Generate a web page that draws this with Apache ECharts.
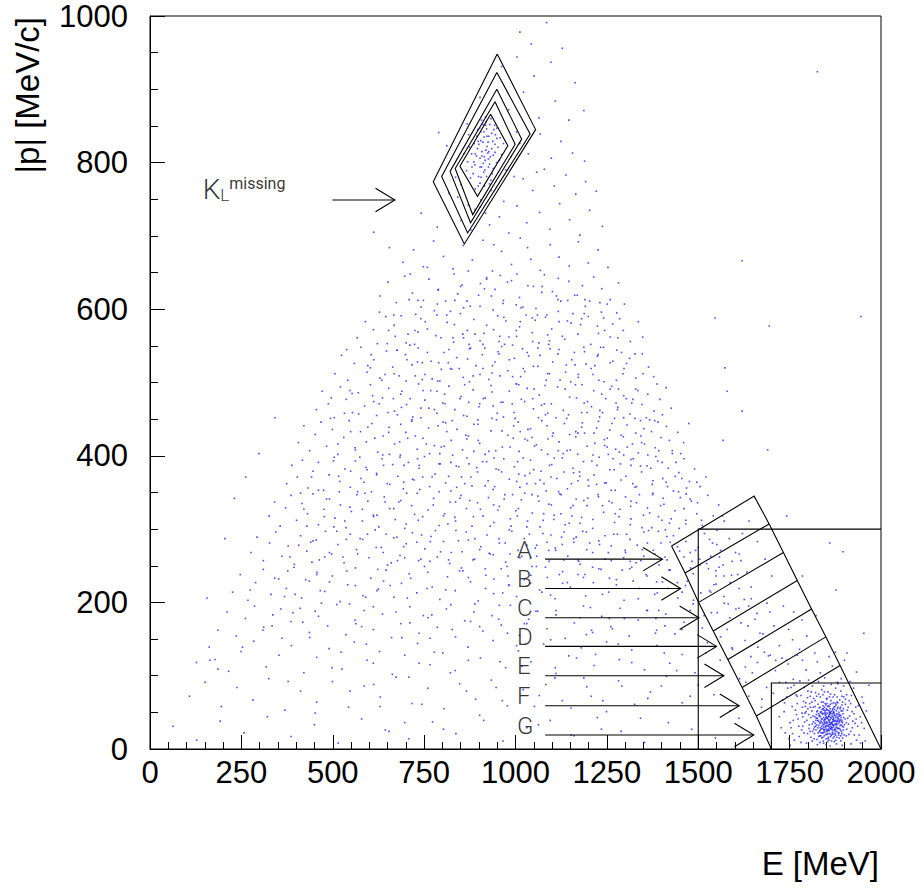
<!DOCTYPE html>
<html>
<head>
<meta charset="utf-8">
<script src="https://cdn.jsdelivr.net/npm/echarts@6/dist/echarts.min.js"></script>
<style>html,body{margin:0;padding:0;background:#fff}#chart{width:924px;height:890px}</style>
</head>
<body>
<div id="chart"></div>
<script>
// ---- axis ticks ----
const xTicks = [0, 250, 500, 750, 1000, 1250, 1500, 1750, 2000];
const yTicks = [0, 200, 400, 600, 800, 1000];

// ---- scatter points (E, |p|) flat pairs ----
const cloudHigh = [
1012,978, 1043,962, 1085,991, 1128,956,
962,931, 1004,944, 1051,918, 1097,937, 1163,909,
903,889, 981,872, 1022,896, 1064,861, 1109,884, 1146,858, 868,853, 1187,871,
1012,826, 1035,812, 1068,839, 1098,806, 1124,829, 1156,813, 812,823, 790,841, 1189,802,
1021,778, 1047,762, 1079,791, 1106,768, 1138,783, 1165,757, 1192,774, 1221,761, 818,758, 842,753, 1058,787,
851,721, 878,708, 903,739, 929,715, 956,726, 982,704, 1004,741, 1031,718, 1066,732, 1094,709, 1121,744, 1148,722, 1176,701, 1203,735, 1238,713, 968,747,
692,664, 721,681, 748,658, 776,693, 803,672, 829,655, 857,687, 882,667, 911,694, 937,652, 962,679, 989,661, 1013,697, 1042,668, 1068,653, 1095,688, 1119,671, 1147,659, 1172,692, 1199,663, 1226,681, 1253,657, 941,688, 1033,684, 871,652,
629,618, 651,637, 674,609, 697,645, 718,622, 742,603, 763,641, 788,626, 809,611, 832,648, 854,633, 876,604, 899,619, 921,643, 944,627, 966,608, 989,639, 1011,616, 1034,632, 1056,601, 1079,647, 1101,624, 1124,611, 1146,638, 1169,619, 1191,604, 1214,644, 1236,628, 1259,613, 1282,636, 1298,607, 712,648, 834,612, 958,646, 1072,623, 1183,632, 786,607, 1002,606, 1117,642, 915,628,
567,561, 589,583, 611,572, 628,596, 649,553, 668,578, 687,591, 706,566, 724,552, 741,587, 759,573, 778,598, 796,561, 813,582, 831,555, 849,594, 868,571, 886,586, 903,557, 921,578, 939,599, 957,563, 974,584, 992,551, 1011,576, 1029,592, 1046,568, 1064,554, 1082,589, 1099,573, 1117,597, 1135,559, 1152,581, 1171,566, 1188,594, 1206,552, 1224,577, 1241,588, 1259,562, 1277,595, 1295,571, 1314,556, 1336,583, 1348,562, 645,590, 733,569, 822,597, 911,552, 1003,563, 1091,552, 1178,579, 1266,580, 701,554, 858,561, 1054,585
];
const cloudMid = [
506,512, 524,537, 541,503, 559,526, 577,548, 594,514, 612,531, 629,506, 647,543, 664,521, 682,509, 699,538, 717,524, 734,547, 752,511, 769,529, 787,502, 804,541, 822,519, 839,534, 857,507, 874,546, 892,523, 909,538, 927,504, 944,528, 962,549, 979,516, 997,533, 1014,508, 1032,541, 1049,522, 1067,537, 1084,503, 1102,528, 1119,545, 1137,514, 1154,531, 1172,507, 1189,542, 1207,519, 1224,536, 1242,501, 1259,527, 1277,544, 1294,512, 1312,533, 1329,506, 1347,539, 1364,521, 1378,508, 538,545, 603,520, 676,544, 745,504, 816,527, 884,509, 955,539, 1025,515, 1095,546, 1163,524, 1233,548, 1304,526, 1088,512, 936,513, 797,518,
455,463, 471,488, 488,471, 504,452, 521,494, 537,477, 554,459, 570,486, 587,468, 603,497, 620,455, 636,479, 653,492, 669,461, 686,484, 702,470, 719,453, 735,498, 752,476, 768,489, 785,458, 801,472, 818,495, 834,463, 851,481, 867,454, 884,490, 900,467, 917,479, 933,496, 950,458, 966,473, 983,488, 999,451, 1016,477, 1032,492, 1049,464, 1065,483, 1082,456, 1098,471, 1115,494, 1131,462, 1148,480, 1164,497, 1181,459, 1197,474, 1214,489, 1230,453, 1247,478, 1263,495, 1280,466, 1296,482, 1313,457, 1329,491, 1346,470, 1362,484, 1379,461, 1395,477, 1412,493, 1426,465, 1358,452, 1387,498, 1402,456, 1321,477, 1271,451, 1208,467, 1140,451, 1071,469, 1003,498, 939,468, 872,473, 806,484, 741,465, 677,456, 612,474, 547,489, 496,479,
406,418, 421,441, 437,407, 452,429, 468,446, 483,413, 499,436, 514,402, 530,425, 545,448, 561,411, 576,433, 592,419, 607,444, 623,405, 638,427, 654,439, 669,416, 685,401, 700,432, 716,447, 731,409, 747,424, 762,438, 778,414, 793,403, 809,445, 824,421, 840,436, 855,408, 871,427, 886,443, 902,417, 917,402, 933,434, 948,449, 964,412, 979,428, 995,441, 1010,406, 1026,423, 1041,437, 1057,415, 1072,448, 1088,402, 1103,431, 1119,419, 1134,444, 1150,408, 1165,426, 1181,439, 1196,413, 1212,401, 1227,447, 1243,422, 1258,435, 1274,409, 1289,428, 1305,442, 1320,416, 1336,404, 1351,437, 1367,449, 1382,411, 1398,425, 1413,440, 1429,407, 1444,432, 1460,418, 1474,444, 1452,403, 1421,421, 1390,446, 1343,427, 1296,401, 1251,412, 1189,431, 1117,407, 1045,425,
374,362, 388,387, 403,371, 417,394, 432,356, 446,379, 461,391, 475,353, 490,374, 504,398, 519,365, 533,382, 548,357, 562,393, 577,369, 591,384, 606,351, 620,376, 635,396, 649,362, 664,388, 678,372, 693,355, 707,391, 722,367, 736,383, 751,399, 765,358, 780,375, 794,389, 809,363, 823,352, 838,386, 852,371, 867,397, 881,359, 896,378, 910,392, 925,366, 939,354, 954,381, 968,396, 983,368, 997,385, 1012,357, 1026,373, 1041,394, 1055,362, 1070,379, 1084,352, 1099,388, 1113,369, 1128,397, 1142,355, 1157,383, 1171,366, 1186,392, 1200,359, 1215,374, 1229,398, 1244,363, 1258,381, 1273,353, 1287,389, 1302,372, 1316,395, 1331,358, 1345,378, 1360,386, 1374,361, 1389,393, 1403,369, 1418,383, 1432,352, 1447,377, 1461,396, 1476,365, 1490,382, 1505,358, 1521,371, 1468,356, 1439,391, 1412,364, 1384,399, 1455,369, 1496,364
];
const cloudLow = [
326,318, 341,337, 356,304, 371,329, 386,346, 401,312, 416,335, 431,321, 446,348, 461,306, 476,327, 491,341, 506,315, 521,333, 536,302, 551,324, 566,347, 581,311, 596,338, 611,319, 626,303, 641,344, 656,328, 671,313, 686,339, 701,307, 716,332, 731,349, 746,317, 761,326, 776,342, 791,305, 806,321, 821,337, 836,311, 851,346, 866,328, 881,304, 896,336, 911,318, 926,343, 941,309, 956,331, 971,347, 986,314, 1001,325, 1016,340, 1031,303, 1046,322, 1061,345, 1076,312, 1091,334, 1106,319, 1121,348, 1136,306, 1151,329, 1166,341, 1181,316, 1196,332, 1211,301, 1226,347, 1241,323, 1256,338, 1271,309, 1286,327, 1301,344, 1316,314, 1331,336, 1346,302, 1361,329, 1376,349, 1391,317, 1406,334, 1421,308, 1436,325, 1451,343, 1466,312, 1481,338, 1496,321, 1511,305, 1526,346, 1541,318, 1556,333, 1571,311,
276,268, 293,289, 310,257, 327,281, 344,296, 361,263, 378,277, 395,252, 412,291, 429,270, 446,284, 463,258, 480,297, 497,266, 514,279, 531,254, 548,293, 565,272, 582,286, 599,261, 616,299, 633,275, 650,251, 667,288, 684,264, 701,280, 718,295, 735,257, 752,273, 769,290, 786,262, 803,283, 820,253, 837,298, 854,269, 871,285, 888,259, 905,276, 922,292, 939,265, 956,281, 973,255, 990,297, 1007,271, 1024,287, 1041,260, 1058,278, 1075,294, 1092,256, 1109,274, 1126,289, 1143,263, 1160,282, 1177,252, 1194,296, 1211,268, 1228,284, 1245,259, 1262,277, 1279,293, 1296,261, 1313,286, 1330,254, 1347,272, 1364,298, 1381,266, 1398,281, 1415,258, 1432,291, 1449,270, 1466,283, 1483,256, 1500,275, 1517,294, 1534,263, 1551,279, 1568,251, 1585,287, 1602,268, 1617,257,
226,214, 247,238, 268,203, 289,227, 310,245, 331,211, 352,232, 373,219, 394,248, 415,206, 436,229, 457,241, 478,215, 499,236, 520,201, 541,224, 562,247, 583,209, 604,233, 625,218, 646,244, 667,207, 688,226, 709,239, 730,213, 751,249, 772,221, 793,204, 814,235, 835,216, 856,243, 877,228, 898,202, 919,237, 940,212, 961,246, 982,223, 1003,208, 1024,231, 1045,249, 1066,217, 1087,234, 1108,205, 1129,242, 1150,221, 1171,238, 1192,209, 1213,227, 1234,245, 1255,214, 1276,231, 1297,203, 1318,248, 1339,219, 1360,236, 1381,211, 1402,228, 1423,244, 1444,206, 1465,223, 1486,239, 1507,213, 1528,246, 1549,225, 1570,208, 1591,237, 1612,219, 1633,241, 1645,205, 1557,248,
186,162, 211,187, 236,154, 261,178, 286,195, 311,166, 336,183, 361,151, 386,174, 411,192, 436,159, 461,181, 486,168, 511,197, 536,156, 561,176, 586,189, 611,163, 636,184, 661,152, 686,171, 711,194, 736,158, 761,179, 786,166, 811,191, 836,153, 861,175, 886,187, 911,161, 936,182, 961,169, 986,196, 1011,155, 1036,177, 1061,188, 1086,164, 1111,183, 1136,151, 1161,172, 1186,195, 1211,159, 1236,181, 1261,167, 1286,192, 1311,154, 1336,176, 1361,189, 1386,162, 1411,184, 1436,157, 1461,173, 1486,198, 1511,165, 1536,186, 1561,153, 1586,179, 1611,192, 1636,168, 1661,185, 1677,157,
127,118, 162,139, 178,122, 215,106, 249,133, 284,147, 318,112, 353,128, 387,141, 421,104, 456,125, 490,137, 525,109, 559,146, 594,121, 628,133, 663,102, 697,128, 732,144, 766,115, 801,131, 835,107, 870,139, 904,124, 939,148, 973,111, 1008,134, 1042,119, 1077,143, 1111,103, 1146,127, 1180,138, 1215,114, 1249,146, 1284,122, 1318,135, 1353,108, 1387,141, 1422,117, 1456,129, 1491,104, 1525,145, 1560,121, 1594,136, 1629,112, 1663,139, 1692,127,
108,72, 151,91, 195,58, 238,84, 282,67, 325,96, 369,53, 412,79, 456,64, 499,92, 543,57, 586,86, 630,71, 673,98, 717,62, 760,83, 804,55, 847,89, 891,68, 934,94, 978,59, 1021,81, 1065,73, 1108,97, 1152,56, 1195,85, 1239,66, 1282,93, 1326,61, 1369,78, 1413,99, 1456,63, 1500,87, 1543,74, 1587,52, 1630,91, 1674,68,
63,31, 128,12, 192,38, 257,22, 321,44, 386,17, 450,33, 515,8, 579,41, 644,26, 708,14, 773,37, 837,21, 902,46, 966,11, 1031,29, 1095,39, 1160,18, 1224,43, 1289,24, 1353,9, 1418,36, 1482,27, 1547,15, 1611,42
];
const cloudExtra = [
733,612, 1187,548, 902,471, 655,402, 1342,386, 511,297, 1098,333, 824,268, 1456,214, 377,243, 968,589, 1215,431, 588,349, 1063,452, 745,527, 1391,297, 452,188, 1276,503, 861,362, 1004,648, 627,471, 1159,287, 309,162, 1523,253, 946,407, 788,441, 1112,618, 562,223, 1327,451, 697,301, 1042,237, 1478,341, 421,327, 873,552, 1248,363, 983,299, 605,538, 1392,189, 771,183, 1136,491, 514,416, 1301,268, 921,641, 684,398, 1067,367, 253,139, 1429,403, 812,592, 1203,611, 478,262, 956,196, 1349,512, 638,268, 1021,519, 1582,198, 738,354, 1170,402, 397,211, 1091,271, 867,423, 1285,587, 549,379, 1443,276, 712,478, 992,347, 1228,246, 341,233, 1128,563, 803,318, 1372,433, 579,167, 937,523, 1509,312, 667,592, 1052,413, 1257,178, 461,353, 889,287, 1187,339, 758,219, 1416,358, 615,424, 1007,446, 1322,229, 533,311, 850,631, 1145,456, 697,261, 1478,189, 982,562, 1273,321, 407,278, 1086,592, 791,389, 1361,281, 643,337, 1236,484, 917,246, 1549,236, 571,457, 1033,311, 826,518, 1409,168, 726,427, 1195,272, 491,228, 962,378, 1306,412, 673,187, 1118,351, 358,191, 1461,328, 782,564, 1058,263, 1241,548, 595,293, 936,451, 1393,251, 703,531, 1162,619, 442,371, 889,198, 1327,357, 621,216, 1013,583, 1269,293, 532,458, 848,342, 1516,182, 759,657, 1101,427, 977,249, 1437,372, 656,361, 1212,511, 418,173, 1039,376, 807,471, 1298,178, 568,266, 1147,308, 914,567, 1367,322, 713,233, 1081,496, 1254,402, 477,317, 952,326, 1561,271, 634,503, 1186,234, 867,611, 1335,489, 743,292, 1024,171, 1479,247, 594,381, 1116,539, 828,401, 1227,344, 383,262, 991,471, 1418,219, 686,443, 1072,214, 1290,541, 546,198, 894,384, 1175,378, 772,505, 1376,366, 623,245, 1049,631, 1238,211, 502,393, 918,219, 1448,301, 725,571, 1132,258, 858,455, 1314,256, 581,327, 1006,392, 1264,444, 455,285, 847,243, 1404,342, 668,512, 1093,387, 1208,162, 791,351, 967,612, 1345,418, 611,194, 1167,479, 426,231, 1031,278, 874,501, 1493,271, 737,387, 1251,607, 518,351, 982,224, 1388,213, 653,571, 1124,321, 809,217, 1279,463, 1551,298, 596,439, 943,358, 1193,525, 711,172, 1061,547, 368,208, 1426,314, 833,579, 1111,189, 667,328, 1322,396, 491,268, 1009,497, 1230,279, 763,465, 1470,229, 562,408, 904,327, 1157,594, 694,276, 1357,238, 429,304, 1045,347, 877,174, 1297,519, 620,374, 1088,458, 789,627, 1401,391, 538,243, 972,281, 1199,367, 732,528, 1531,216, 469,199, 1141,407, 865,296, 1264,336, 651,459, 1020,603, 1384,178, 575,287, 936,487, 1171,258, 817,372, 1461,262, 704,206, 1077,321, 412,349, 1318,472, 952,542, 612,317, 1223,387, 1498,336, 781,298, 1034,436, 1351,263, 553,485, 898,421, 1129,226, 676,544, 1276,224, 1005,318, 443,255, 1410,299, 846,519, 1183,445, 724,320, 1570,236, 590,207, 963,434, 1339,347, 516,372, 1097,292, 797,412, 1244,571, 646,293, 1056,188, 1446,351, 875,339, 1153,362, 391,186, 1304,293, 748,612, 992,508, 1212,313, 568,351, 1381,448, 823,197, 1122,503, 683,419, 1487,203, 928,267, 1267,396, 609,482, 1047,556, 766,256, 1373,302, 483,341, 1176,179, 941,397, 1531,286, 717,449, 1082,248, 856,566, 1327,539, 537,286, 1003,365, 1231,462, 639,229, 1420,244, 904,635, 1157,332, 785,488, 1289,367, 466,216, 1071,408, 954,177, 1353,416, 694,364, 1199,590, 574,398, 1466,307, 834,316, 1025,474, 1262,257, 622,553, 1133,378, 748,182, 1397,332, 911,519, 1238,332, 503,303, 1088,565, 802,446, 1314,306, 660,254, 985,412, 1443,227, 549,433, 1165,433, 871,234, 1282,491, 732,396, 1038,293, 1504,259, 596,523, 940,572, 1205,193, 456,238, 1370,383, 818,545, 1110,271, 689,488, 1251,424, 979,236, 1423,282, 637,401, 1061,522, 775,333, 1336,205, 528,262, 897,449, 1184,297, 711,551, 1467,348, 1017,263, 1295,426, 585,364, 845,385, 1142,584, 657,223, 1392,407, 931,304, 1226,538, 494,451, 1050,381, 765,403, 1316,338, 619,275, 970,552, 1543,224, 701,502, 1096,210, 886,406, 1259,491, 547,330, 1013,433, 1359,189, 741,259, 1172,511, 440,282
];
const cloudCore = [
812,433, 1093,512, 955,287, 1176,372, 702,349, 1238,459, 889,566, 1021,397, 767,283, 1315,331, 934,618, 1142,227, 848,478, 1067,303, 1284,405, 726,509, 996,459, 1203,281, 873,389, 1119,583, 653,432, 1351,296, 941,232, 1182,497, 785,592, 1036,536, 1262,353, 817,258, 1089,423, 969,341, 1227,567, 746,371, 1409,262, 903,511, 1154,318, 688,466, 1012,261, 1296,452, 858,602, 1078,362, 1333,278, 927,406, 1190,613, 759,541, 1047,478, 1257,233, 836,337, 1111,452, 675,289, 983,531, 1217,417, 902,272, 1161,541, 741,452, 1375,347, 1025,349, 1280,561, 864,428, 1133,296, 709,613, 961,473, 1198,342, 793,502, 1060,592, 1316,387, 917,359, 1173,256, 643,511, 1386,228, 1002,571, 1245,291, 829,561, 1097,371, 734,312, 978,637, 1228,503, 885,317, 1148,429, 671,563, 1054,274, 1303,478, 947,382, 1211,248, 805,413, 1073,631, 1342,448, 916,547, 1177,308, 760,241, 1033,421, 1270,381, 844,284, 1116,613, 695,387, 988,304, 1235,596, 869,532, 1125,347, 621,319, 1401,312, 958,509, 1196,459, 778,463, 1041,226, 1313,246, 897,443, 1159,377, 727,593, 1009,375, 1283,317, 842,621, 1086,282, 967,453, 1222,361, 815,307, 1139,524, 681,337, 1051,491, 1362,401, 931,266, 1181,587, 756,416, 1019,546, 1254,268, 878,371, 1106,397, 639,387, 1377,271, 994,424, 1217,523, 852,247, 1093,557, 718,368, 1329,431, 951,591, 1166,289, 790,527, 1064,338, 1292,244, 912,478, 1143,612, 677,257, 1031,362, 1244,414, 861,497, 1120,238, 747,489, 985,266, 1209,393, 827,448, 1079,471, 1350,319, 940,333, 1188,472, 705,424, 1015,602, 1266,529, 884,258, 1131,403, 772,371, 1002,498, 1300,271, 955,556, 1171,431, 823,391, 1057,249, 1231,609, 666,478, 1105,313, 921,392, 1321,362, 795,269, 1046,588, 1190,238, 877,547, 1414,290, 730,282, 1008,328, 1275,472, 839,357, 1151,501, 965,213, 1222,438, 753,583, 1086,441, 1343,257, 903,604, 1128,279,
523,132, 744,61, 978,158, 1187,97, 1342,42, 612,88, 871,121, 1063,33, 1265,164, 452,49, 689,152, 1128,66, 1407,131, 803,27, 947,84, 1219,129, 563,171, 1017,113, 1478,72, 378,92, 736,117, 1291,86, 913,39, 1096,149, 654,24, 1383,158, 827,163, 1152,19, 498,111, 1031,171, 1249,51, 708,98, 1441,107, 592,143, 964,66, 1318,118, 866,79, 1194,156, 437,152, 778,132, 1083,88, 1521,131, 629,58, 1003,141, 1362,69, 902,167, 1167,124, 547,79, 1235,27, 822,104, 1455,163, 697,36, 1109,111, 334,168, 1281,143, 958,119, 1399,86, 766,151, 1052,58, 1566,101, 611,117, 1207,72
];
const diamondPts = [
905,842, 918,851, 927,836, 911,828, 896,819, 922,822, 938,829, 931,808, 917,803, 903,806, 889,797, 944,814, 952,821, 926,794, 913,787, 899,781, 884,785, 936,785, 948,800, 921,846, 907,858, 894,836, 880,812, 869,801, 941,845, 958,834, 962,811, 929,771, 915,768, 903,772, 890,764, 877,779, 908,815, 924,813, 935,819, 898,829, 887,826, 914,835, 930,852, 945,838, 956,803, 939,792, 921,781, 907,794, 893,809, 881,794, 866,789, 912,799, 926,805, 902,847, 918,862, 933,860, 949,847, 967,826, 874,821,
836,780, 851,770, 859,812, 872,838, 973,790, 988,808, 996,781, 1003,842, 871,742, 889,736, 905,749, 918,731, 934,762,
914,842, 900,825, 925,828, 935,840, 908,809, 919,817, 929,798, 944,825, 903,794, 916,790, 890,812, 897,845, 911,852, 939,810, 922,836, 906,780, 886,801, 949,833, 927,815, 915,808, 933,776, 898,768, 920,856, 943,851, 905,830
];
const bandPts = [
1478,268, 1512,302, 1539,281, 1566,318, 1593,256, 1621,294, 1548,243, 1587,227, 1612,266, 1639,311, 1505,251, 1662,283, 1534,214, 1571,199, 1608,238, 1645,221, 1683,259, 1701,236, 1558,262, 1626,204,
1552,186, 1579,163, 1603,191, 1628,148, 1655,177, 1681,132, 1707,168, 1733,195, 1758,149, 1784,176, 1592,138, 1617,172, 1644,126, 1669,158, 1696,187, 1722,141, 1747,163, 1771,128, 1797,154, 1822,182, 1638,195, 1712,121, 1688,199, 1761,187, 1741,121,
1613,96, 1638,72, 1662,118, 1687,84, 1711,107, 1736,63, 1760,95, 1785,121, 1809,78, 1834,104, 1858,126, 1882,89, 1648,104, 1673,57, 1697,128, 1722,91, 1746,116, 1771,72, 1795,108, 1819,131, 1843,86, 1867,113, 1891,96, 1705,76, 1754,84, 1802,94, 1851,69, 1729,124, 1777,136, 1826,119, 1875,132, 1900,121
];
const blobPts = [
1812,34, 1818,21, 1823,47, 1827,29, 1831,56, 1835,18, 1839,41, 1843,27, 1847,62, 1851,35, 1855,14, 1859,49, 1863,31, 1867,23, 1871,57, 1875,39, 1879,16, 1883,44, 1887,28, 1891,52, 1895,36, 1899,19,
1814,45, 1820,58, 1825,13, 1829,38, 1833,25, 1837,64, 1841,33, 1845,49, 1849,20, 1853,42, 1857,27, 1861,61, 1865,36, 1869,15, 1873,46, 1877,30, 1881,55, 1885,22, 1889,40, 1893,60, 1897,26,
1816,27, 1822,39, 1826,52, 1830,17, 1834,44, 1838,31, 1842,55, 1846,23, 1850,37, 1854,58, 1858,12, 1862,43, 1866,29, 1870,50, 1874,21, 1878,35, 1882,63, 1886,47, 1890,18, 1894,31, 1898,43,
1811,52, 1817,14, 1821,31, 1828,61, 1832,36, 1836,22, 1840,48, 1844,39, 1848,29, 1852,53, 1856,44, 1860,21, 1864,51, 1868,40, 1872,26, 1876,62, 1880,33, 1884,19, 1888,55, 1892,24, 1896,48,
1813,24, 1819,44, 1824,33, 1831,24, 1836,51, 1841,16, 1846,35, 1850,47, 1855,26, 1859,37, 1864,19, 1868,33, 1873,54, 1877,45, 1882,28, 1886,37, 1891,43, 1895,15, 1900,33,
1815,37, 1826,42, 1834,35, 1844,53, 1853,31, 1861,50, 1870,42, 1879,24, 1888,32, 1897,55, 1822,26, 1832,46, 1842,22, 1852,24, 1862,34, 1872,38, 1882,47, 1892,37, 1849,43, 1858,52, 1866,45, 1876,27, 1884,41, 1856,33, 1863,27, 1847,46, 1871,32, 1839,28, 1880,39, 1867,37,
1722,44, 1731,67, 1738,22, 1745,83, 1751,36, 1757,58, 1763,12, 1768,74, 1773,41, 1778,93, 1783,26, 1788,65, 1792,49, 1796,8, 1800,79, 1804,33, 1807,57, 1909,42, 1913,66, 1917,24, 1921,51, 1925,83, 1929,35, 1933,12, 1938,59, 1943,44, 1948,71, 1954,28, 1960,52,
1735,51, 1748,14, 1760,39, 1771,62, 1781,9, 1790,84, 1799,21, 1806,72, 1812,86, 1821,77, 1829,92, 1838,81, 1846,97, 1855,78, 1864,88, 1873,74, 1881,91, 1890,79, 1898,86, 1906,74, 1915,92,
1742,71, 1754,29, 1766,53, 1776,17, 1786,44, 1794,63, 1802,47, 1808,16, 1905,18, 1911,34, 1918,7, 1923,38, 1931,57, 1940,19, 1947,36, 1957,11, 1826,6, 1843,8, 1861,4, 1878,7, 1894,5, 1834,71, 1852,68, 1869,71, 1887,67, 1903,61,
1727,29, 1740,91, 1752,5, 1762,87, 1775,31, 1785,57, 1797,39, 1805,62, 1816,69, 1824,72, 1841,74, 1859,71, 1876,83, 1893,72, 1908,53, 1919,73, 1927,19, 1936,31, 1944,8, 1952,63, 1789,22, 1781,73, 1800,55, 1769,47, 1758,21
];
const blobCore = [
1848,31, 1857,39, 1862,28, 1869,44, 1874,34, 1853,49, 1845,18, 1878,52, 1866,20, 1859,58, 1843,43, 1884,35, 1851,27, 1871,38, 1863,48, 1855,21, 1839,36, 1880,29, 1868,55, 1847,52, 1876,19, 1860,33, 1852,62, 1887,45, 1834,29, 1873,27, 1857,46, 1841,59, 1865,11, 1889,26, 1829,48, 1850,14, 1882,57, 1870,30, 1837,41, 1861,40, 1893,39, 1844,34, 1854,53, 1876,43, 1830,32, 1866,62, 1858,25, 1846,26, 1885,50, 1833,57, 1872,17, 1851,44, 1863,35, 1840,22, 1878,37, 1856,16, 1868,48, 1897,30, 1827,39, 1849,60, 1883,22, 1861,55, 1845,37, 1874,58, 1838,49, 1890,46, 1853,36, 1867,26, 1820,35, 1880,64, 1842,11, 1870,51, 1859,29, 1832,18, 1902,41, 1848,40, 1864,42, 1877,33, 1825,51, 1852,20, 1886,15, 1841,48, 1869,21, 1856,59, 1895,52, 1836,27, 1873,46, 1862,17, 1845,57, 1881,42, 1828,22, 1858,44, 1871,63, 1850,32, 1891,33, 1839,54, 1866,35, 1854,10, 1879,48, 1843,30, 1861,50, 1906,27, 1823,42, 1875,24, 1848,49, 1863,66, 1836,38, 1884,28, 1857,31, 1870,40, 1844,25, 1889,57, 1852,42, 1867,53, 1831,45, 1876,12, 1859,36, 1842,64, 1882,38, 1853,25, 1872,49, 1818,30, 1865,29, 1846,41, 1893,21, 1860,47, 1838,15, 1877,60, 1850,55, 1868,33, 1834,50, 1887,39, 1856,40,
1795,51, 1803,28, 1811,64, 1791,37, 1808,43, 1799,70, 1786,31, 1815,57, 1806,24, 1793,58, 1812,11, 1784,49, 1903,68, 1914,45, 1921,29, 1910,57, 1926,48, 1917,62, 1905,36, 1932,41, 1898,71, 1912,20, 1820,66, 1830,75, 1845,78, 1862,75, 1880,71, 1895,64, 1833,9, 1850,6, 1872,10, 1890,11
];
const sparsePts = [
1826,924, 1620,666, 1546,588, 1694,577, 1945,590, 1573,520, 1579,488, 1620,461, 1568,421, 1860,281, 1896,269, 1877,217, 1907,131, 1953,158, 1742,318, 1690,408, 1785,236, 1933,105, 1967,87,
164,121, 186,109, 274,217, 231,342, 298,403, 342,452, 156,206, 205,287, 262,371, 612,705, 655,684, 742,731, 786,712
];

// ---- overlay shapes (E, |p|) ----
const diamonds = [
  [[950,948],[1055,845],[860,689],[775,774]],
  [[949,923],[1040,839],[869,704],[798,781]],
  [[949,900],[1017,832],[877,718],[821,788]],
  [[944,883],[999,825],[883,729],[835,792]],
  [[932,866],[979,823],[896,754],[848,795]]
];
const bandLeft  = [[1427,277],[1464,240],[1501,200],[1541,161],[1581,122],[1620,84],[1659,45],[1700,0]];
const bandRight = [[1653,345],[1694,307],[1733,268],[1771,230],[1810,191],[1849,153],[1888,114],[2000,0]];
const boxBig   = [[1500,0],[1500,300],[2000,300]];
const boxSmall = [[1700,0],[1700,90],[2000,90]];

// arrows: start E, end (tip) E, p
const klArrow = {from: 499, to: 670, p: 749};
const klLabel = {E: 144, p: 763};
const binNames   = ['A','B','C','D','E','F','G'];
const binArrowP  = [259, 219, 179, 140, 100, 59, 19];
const binArrowTo = [1402, 1452, 1502, 1550, 1570, 1612, 1652];
const binArrowFrom = 1081;
const binLabelE = 1004;
const binLabelP = [272, 232, 192, 153, 113, 72, 31];

function pairs(flat){ const out=[]; for(let i=0;i<flat.length;i+=2) out.push([flat[i],flat[i+1]]); return out; }

const HEAD_E = 53, HEAD_P = 16;
function arrow(from, to, p){
  return [
    {coords: [[from,p],[to,p]]},
    {coords: [[to-HEAD_E,p+HEAD_P],[to,p],[to-HEAD_E,p-HEAD_P]]}
  ];
}

const lineItems = [];
diamonds.forEach(d => lineItems.push({coords: d.concat([d[0]])}));
lineItems.push({coords: bandLeft.slice()});
lineItems.push({coords: [bandLeft[0]].concat(bandRight)});
for (let i=1;i<bandLeft.length-1;i++) lineItems.push({coords:[bandLeft[i], bandRight[i]]});
lineItems.push({coords: boxBig});
lineItems.push({coords: boxSmall});
arrow(klArrow.from, klArrow.to, klArrow.p).forEach(a => lineItems.push(a));
binNames.forEach((n,i) => arrow(binArrowFrom, binArrowTo[i], binArrowP[i]).forEach(a => lineItems.push(a)));

const allPts = pairs(cloudHigh).concat(pairs(cloudMid), pairs(cloudLow), pairs(cloudExtra), pairs(cloudCore),
  pairs(diamondPts), pairs(bandPts), pairs(blobPts), pairs(blobCore), pairs(sparsePts));

const thinFont = 'Roboto, "DejaVu Sans", sans-serif';
const textItems = binNames.map((n,i) => ({
  value:[binLabelE, binLabelP[i]],
  label:{show:true, formatter:n, position:'inside', align:'left', verticalAlign:'middle',
         fontSize:24, lineHeight:24, fontWeight:300, fontFamily:thinFont, color:'#000'}
}));
textItems.push({value:[klLabel.E, klLabel.p], label:{show:true, formatter:'{k|K}{l|L}{m|missing}', position:'inside',
     align:'left', verticalAlign:'middle',
     rich:{
       k:{fontSize:28, lineHeight:28, fontWeight:300, fontFamily:thinFont, color:'#000'},
       l:{fontSize:17, lineHeight:10, fontWeight:300, fontFamily:thinFont, color:'#000', verticalAlign:'bottom'},
       m:{fontSize:16, lineHeight:10, fontWeight:400, fontFamily:thinFont, color:'#000', verticalAlign:'top'}
     }}});

const axisFont = '"Liberation Sans", Arial, Helvetica, sans-serif';
const chart = echarts.init(document.getElementById('chart'), null, {renderer:'svg', width:924, height:890});
chart.setOption({
  animation: false,
  backgroundColor: '#fff',
  grid: {left:150, top:16, right:43, bottom:141, show:true, borderColor:'#000', borderWidth:1, containLabel:false, outerBoundsMode:'none'},
  xAxis: {
    type:'value', min:xTicks[0], max:xTicks[xTicks.length-1], interval:xTicks[1]-xTicks[0],
    axisLine:{show:true, onZero:false, lineStyle:{color:'#000', width:1}},
    axisTick:{show:true, inside:true, length:14, lineStyle:{color:'#000', width:1}},
    minorTick:{show:true, splitNumber:5, length:7, lineStyle:{color:'#000', width:1}},
    splitLine:{show:false}, minorSplitLine:{show:false},
    axisLabel:{color:'#000', fontSize:31, fontFamily:axisFont, margin:8, showMinLabel:true, showMaxLabel:true, hideOverlap:false, formatter: v => String(v)}
  },
  yAxis: {
    type:'value', min:yTicks[0], max:yTicks[yTicks.length-1], interval:yTicks[1]-yTicks[0],
    axisLine:{show:true, onZero:false, lineStyle:{color:'#000', width:1}},
    axisTick:{show:true, inside:true, length:15, lineStyle:{color:'#000', width:1}},
    minorTick:{show:true, splitNumber:4, length:8, lineStyle:{color:'#000', width:1}},
    splitLine:{show:false}, minorSplitLine:{show:false},
    axisLabel:{color:'#000', fontSize:31, fontFamily:axisFont, margin:22, showMinLabel:true, showMaxLabel:true, hideOverlap:false, formatter: v => String(v)}
  },
  graphic: [
    {type:'text', x:27, y:17, rotation:Math.PI/2, style:{text:'|p| [MeV/c]', fill:'#000', fontSize:33, fontFamily:axisFont, align:'right', verticalAlign:'middle'}},
    {type:'text', x:879, y:863, style:{text:'E [MeV]', fill:'#000', fontSize:33, fontFamily:axisFont, align:'right', verticalAlign:'middle'}}
  ],
  series: [
    {type:'scatter', data: allPts, symbol:'rect', symbolSize:1.6, itemStyle:{color:'#2020ff'}, silent:true, z:1},
    {type:'lines', coordinateSystem:'cartesian2d', polyline:true, data: lineItems, silent:true, z:3,
     lineStyle:{color:'#000', width:1.1, opacity:1}},
    {type:'scatter', data: textItems, symbolSize:0, silent:true, z:4}
  ]
});
</script>
</body>
</html>
